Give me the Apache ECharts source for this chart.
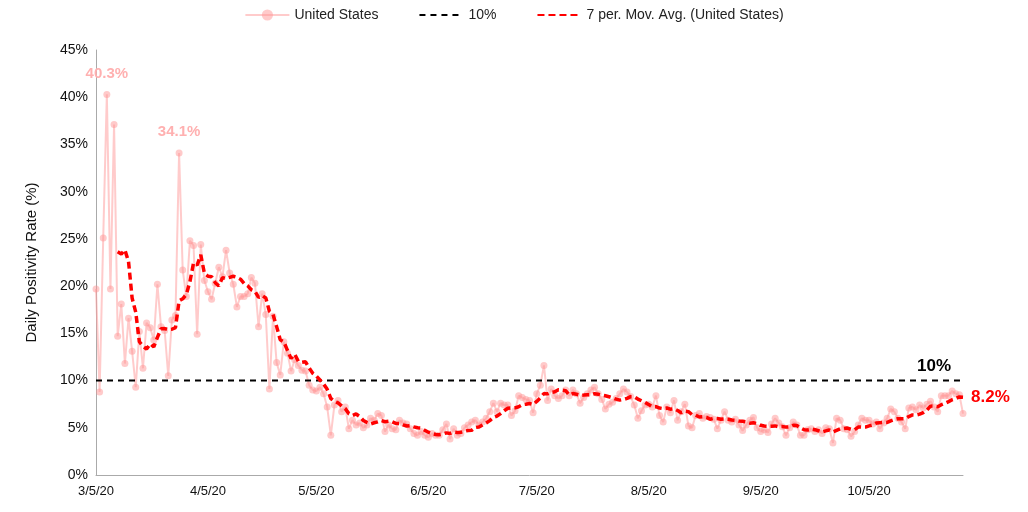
<!DOCTYPE html>
<html><head><meta charset="utf-8">
<script src="https://cdn.jsdelivr.net/npm/echarts@6/dist/echarts.min.js"></script>
<style>html,body{margin:0;padding:0;background:#fff}#chart{width:1028px;height:512px}</style>
</head><body><div id="chart"></div>
<script>
'use strict';

// daily positivity rate (%) from 3/5/20
const usRate = [
  19.7, 8.8, 25.1, 40.3, 19.7, 37.1, 14.7, 18.1, 11.8, 16.6, 13.1, 9.3, 15.2, 11.3, 16.1, 15.6, 14.3, 20.2, 15.7, 15.3,
  10.5, 16.4, 16.9, 34.1, 21.7, 18.9, 24.8, 24.3, 14.9, 24.4, 20.6, 19.4, 18.6, 20.3, 22.0, 21.0, 23.8, 21.4, 20.2, 17.8,
  18.9, 18.9, 19.2, 20.9, 20.3, 15.7, 19.2, 17.0, 9.1, 16.8, 11.9, 10.6, 14.1, 12.9, 11.0, 12.2, 11.6, 11.1, 11.0, 9.5,
  9.0, 8.9, 9.3, 8.6, 7.2, 4.2, 7.4, 7.9, 6.7, 7.2, 4.9, 5.8, 5.3, 5.5, 5.0, 5.3, 6.0, 5.8, 6.5, 6.3, 4.6, 5.3,
  4.9, 4.8, 5.8, 5.5, 5.4, 4.9, 4.4, 4.2, 4.6, 4.2, 4.0, 4.4, 4.2, 4.2, 4.8, 5.4, 3.8, 4.9, 4.2, 4.4, 5.0,
  5.3, 5.6, 5.8, 5.3, 5.6, 6.0, 6.7, 7.6, 6.7, 7.6, 7.4, 7.4, 6.3, 6.8, 8.4, 8.2, 8.0, 7.9, 6.6, 8.6,
  9.5, 11.6, 7.9, 9.1, 8.4, 8.1, 8.4, 9.0, 8.4, 9.0, 8.6, 7.6, 8.2, 8.6, 9.0, 9.3, 8.6, 8.0, 7.0, 7.5, 7.7,
  8.1, 8.6, 9.1, 8.8, 8.3, 7.4, 6.0, 6.8, 7.4, 7.5, 7.2, 8.4, 6.3, 5.6, 7.2, 6.6, 7.9, 5.8, 6.7, 7.5, 5.2, 5.0,
  6.3, 6.5, 6.0, 6.2, 6.1, 5.9, 4.9, 5.8, 6.7, 5.8, 5.6, 5.9, 5.3, 4.7, 5.3, 5.8, 6.1, 5.0, 4.6, 4.8, 4.5, 5.4,
  6.0, 5.5, 5.1, 4.2, 5.0, 5.6, 5.3, 4.2, 4.2, 4.8, 4.9, 4.6, 4.8, 4.4, 5.0, 4.9, 3.4, 6.0, 5.8, 4.9, 4.8,
  4.1, 4.6, 5.3, 6.0, 5.8, 5.8, 5.4, 5.6, 4.9, 5.5, 6.0, 7.0, 6.7, 6.0, 5.6, 4.9, 7.1, 7.2, 6.9, 7.4, 7.1, 7.5, 7.8, 7.2, 6.7,
  8.4, 8.4, 8.4, 8.9, 8.6, 8.5, 6.5
];
const threshold = 10;
const startDate = [2020, 2, 5];
const tickDays = [5];
const yTicks = [0, 5, 10, 15, 20, 25, 30, 35, 40, 45];
const peakLabels = [3, 23];

const dates = usRate.map((v, i) => {
  const d = new Date(startDate[0], startDate[1], startDate[2] + i);
  return (d.getMonth() + 1) + '/' + d.getDate() + '/20';
});
const movAvg = usRate.map((v, i) => {
  if (i < 6) return '-';
  let s = 0;
  for (let k = i - 6; k <= i; k++) s += usRate[k];
  return +(s / 7).toFixed(2);
});
const last = usRate.length - 1;

const pink = '#ffb0b0';
const option = {
  animation: false,
  textStyle: {fontFamily: 'Liberation Sans'},
  legend: {
    top: 3,
    left: 'center',
    itemGap: 40,
    itemWidth: 44,
    textStyle: {fontSize: 14, color: '#222'},
    data: [
      {name: 'United States'},
      {name: '10%', itemStyle: {opacity: 0}},
      {name: '7 per. Mov. Avg. (United States)', itemStyle: {opacity: 0}}
    ]
  },
  grid: {left: 96, right: 65, top: 50, bottom: 37},
  xAxis: {
    type: 'category',
    data: dates,
    boundaryGap: false,
    axisLine: {lineStyle: {color: '#aaa'}},
    axisTick: {show: false},
    axisLabel: {
      color: '#111', fontSize: 13, margin: 10,
      interval: (i, v) => tickDays.includes(+v.split('/')[1])
    }
  },
  yAxis: {
    type: 'value', min: 0, max: 45, interval: 5,
    name: 'Daily Positivity Rate (%)',
    nameLocation: 'middle', nameGap: 57,
    nameTextStyle: {fontSize: 15, color: '#111'},
    axisLine: {show: true, lineStyle: {color: '#aaa'}},
    splitLine: {show: false},
    axisLabel: {color: '#111', fontSize: 14, formatter: v => yTicks.includes(v) ? v + '%' : ''}
  },
  series: [
    {
      name: 'United States', type: 'line', data: usRate.map((v, i) => peakLabels.includes(i) ? {
        value: v, label: {show: true, position: 'top', distance: 10, formatter: v.toFixed(1) + '%', color: pink, fontSize: 15, fontWeight: 'bold'}
      } : v),
      symbol: 'circle', symbolSize: 7, showSymbol: true, showAllSymbol: true,
      itemStyle: {color: 'rgba(255,150,150,0.5)'},
      lineStyle: {color: 'rgba(255,160,160,0.55)', width: 2},
      z: 2
    },
    {
      name: '10%', type: 'line', data: usRate.map((v, i) => i === last - 8 ? {
        value: threshold, label: {show: true, position: 'top', distance: 6, formatter: '10%', color: '#000', fontSize: 17, fontWeight: 'bold'}
      } : threshold),
      symbol: 'circle', symbolSize: 0, showSymbol: true, showAllSymbol: true, color: '#000',
      lineStyle: {color: '#000', type: [6, 5], width: 2},
      z: 3
    },
    {
      name: '7 per. Mov. Avg. (United States)', type: 'line',
      data: movAvg.map((v, i) => i === last ? {
        value: v, label: {show: true, position: 'right', distance: 8, formatter: v.toFixed(1) + '%', color: '#ff0000', fontSize: 17, fontWeight: 'bold'}
      } : v),
      symbol: 'circle', symbolSize: 0, showSymbol: true, showAllSymbol: true, color: '#ff0000',
      lineStyle: {color: '#ff0000', type: [7, 4], width: 3.5},
      z: 4
    }
  ]
};
echarts.init(document.getElementById('chart')).setOption(option);
</script></body></html>
